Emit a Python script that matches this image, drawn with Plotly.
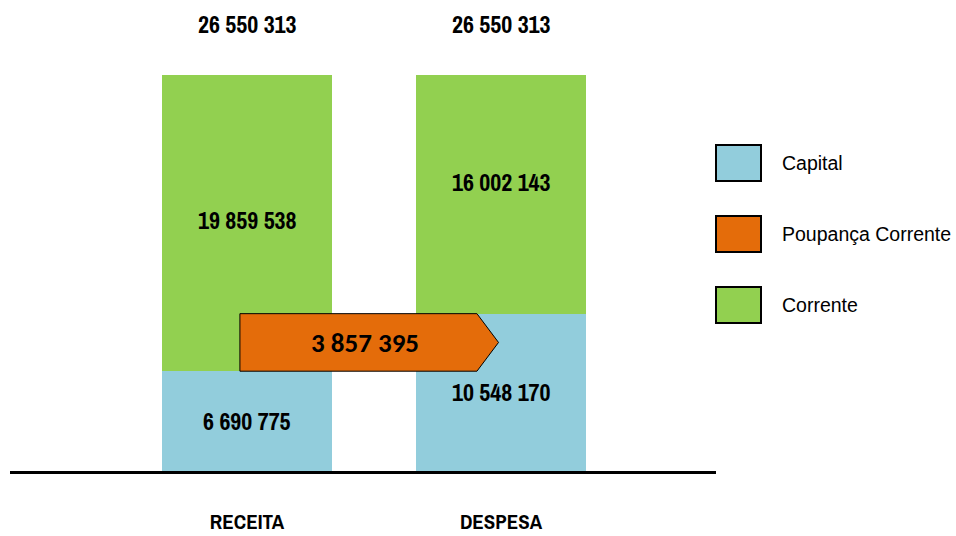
import plotly.graph_objects as go

categories = ["RECEITA", "DESPESA"]
capital = [6690775, 10548170]
corrente = [19859538, 16002143]
poupanca = 3857395
series_names = ["Capital", "Poupança Corrente", "Corrente"]

COL_CAP = "#92CDDC"
COL_POUP = "#E46C0A"
COL_COR = "#92D050"
NARROW = "Liberation Sans Narrow, Archivo Narrow, Arial Narrow, Liberation Sans, Arial"

def fmt(v):
    return f"{v:,}".replace(",", " ")

xs = [0, 1]
totals = [a + b for a, b in zip(capital, corrente)]

fig = go.Figure()
fig.add_trace(go.Bar(x=xs, y=capital, name=series_names[0], marker_color=COL_CAP,
                     width=0.67, marker_line_width=0, showlegend=False, hoverinfo="skip"))
fig.add_trace(go.Bar(x=xs, y=corrente, name=series_names[2], marker_color=COL_COR,
                     width=0.67, marker_line_width=0, showlegend=False, hoverinfo="skip"))

# Arrow for Poupança Corrente: spans between the two capital tops
y0 = capital[0]
y1 = capital[0] + poupanca
ym = (y0 + y1) / 2
ax0, ax_body, ax_tip = -0.028, 0.905, 0.99
fig.add_trace(go.Scatter(
    x=[ax0, ax_body, ax_tip, ax_body, ax0, ax0],
    y=[y0, y0, ym, y1, y1, y0],
    fill="toself", fillcolor=COL_POUP, mode="lines",
    line=dict(color="black", width=1), showlegend=False, hoverinfo="skip"))

annotations = []
label_font = dict(family=NARROW, size=24, color="black", weight="bold")
cap_shift = [0, 0]
cor_shift = [3, 12]
for i, x in enumerate(xs):
    annotations.append(dict(x=x, y=capital[i] / 2, text=fmt(capital[i]), showarrow=False,
                            font=label_font, xref="x", yref="y", yshift=cap_shift[i]))
    annotations.append(dict(x=x, y=capital[i] + corrente[i] / 2, text=fmt(corrente[i]),
                            showarrow=False, font=label_font, xref="x", yref="y",
                            yshift=cor_shift[i]))
    annotations.append(dict(x=x, y=totals[i], text=fmt(totals[i]), showarrow=False,
                            font=label_font, xref="x", yref="y", yshift=51))
annotations.append(dict(x=0.465, y=ym, text=fmt(poupanca), showarrow=False,
                        font=dict(family="Carlito, Lato, Liberation Sans, Arial", size=27,
                                  color="black", weight="bold"),
                        xref="x", yref="y"))

# Legend drawn manually
shapes = []
legend_colors = [COL_CAP, COL_POUP, COL_COR]
legend_y = [163, 234, 305]
for name, col, py in zip(series_names, legend_colors, legend_y):
    shapes.append(dict(type="rect", xref="paper", yref="paper",
                       x0=(716 - 10) / 706, x1=(761 - 10) / 706,
                       y0=(471 - (py + 18)) / 448, y1=(471 - (py - 18)) / 448,
                       fillcolor=col, line=dict(color="black", width=2), layer="above"))
    annotations.append(dict(xref="paper", yref="paper", x=(780 - 10) / 706,
                            y=(471 - py) / 448, text=name, showarrow=False,
                            xanchor="left", yanchor="middle",
                            font=dict(family="Liberation Sans, Arial", size=19.5, color="black")))

fig.update_layout(
    width=956, height=536,
    margin=dict(l=10, r=240, t=23, b=65),
    paper_bgcolor="white", plot_bgcolor="white",
    barmode="stack", bargap=0,
    showlegend=False,
    xaxis=dict(range=[-0.933, 1.846], tickvals=xs, ticktext=categories,
               showgrid=False, zeroline=False, showline=True, linecolor="black",
               linewidth=3, ticks="", ticklabelstandoff=30, automargin=False,
               tickfont=dict(family=NARROW, size=21, color="black", weight="bold")),
    yaxis=dict(range=[0, 30036000], visible=False, showgrid=False, zeroline=False,
               automargin=False),
    annotations=annotations,
    shapes=shapes,
)

fig.write_html("out.html", config={"displayModeBar": False},
               post_script="document.body.style.margin='0';")
